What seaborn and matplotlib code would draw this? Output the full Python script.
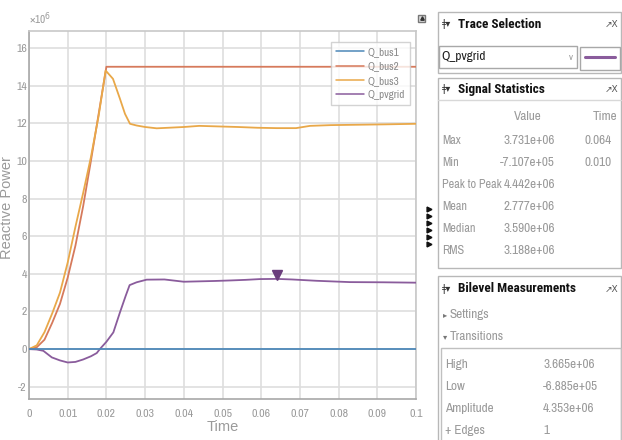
import numpy as np
import pandas as pd
import matplotlib
matplotlib.use("Agg")
import matplotlib.pyplot as plt
from matplotlib.patches import Rectangle
from matplotlib.lines import Line2D
import seaborn as sns

# ---- signal data (reactive power in units of 1e6) ----
t_bus1 = [0.0, 0.1]
q_bus1 = [0.0, 0.0]

t_bus2 = [0, 0.002, 0.004, 0.006, 0.008, 0.010, 0.012, 0.014, 0.016, 0.018, 0.020, 0.100]
q_bus2 = [0, 0.1, 0.5, 1.4, 2.4, 3.8, 5.5, 7.6, 10.0, 12.5, 15.0, 15.0]

t_bus3 = [0, 0.002, 0.004, 0.006, 0.008, 0.010, 0.012, 0.014, 0.016, 0.018, 0.0198,
          0.0217, 0.0235, 0.0248, 0.0261, 0.0278, 0.030, 0.033, 0.036, 0.040, 0.044,
          0.049, 0.054, 0.059, 0.064, 0.069, 0.0726, 0.078, 0.085, 0.092, 0.100]
q_bus3 = [0, 0.2, 0.9, 1.9, 3.0, 4.6, 6.5, 8.3, 10.2, 12.4, 14.8,
          14.36, 13.3, 12.5, 11.97, 11.88, 11.80, 11.73, 11.76, 11.80, 11.86,
          11.83, 11.80, 11.76, 11.74, 11.74, 11.86, 11.90, 11.92, 11.94, 11.97]

t_pv = [0, 0.002, 0.0037, 0.0059, 0.008, 0.010, 0.012, 0.014, 0.016, 0.0175, 0.0183,
        0.020, 0.0218, 0.0235, 0.025, 0.026, 0.0278, 0.0304, 0.035, 0.040, 0.044,
        0.048, 0.0523, 0.056, 0.0596, 0.064, 0.068, 0.0743, 0.0829, 0.0915, 0.100]
q_pv = [0, -0.02, -0.09, -0.44, -0.60, -0.71, -0.68, -0.55, -0.38, -0.21, 0.0,
        0.39, 0.89, 1.95, 2.84, 3.40, 3.55, 3.69, 3.70, 3.58, 3.60,
        3.62, 3.65, 3.68, 3.72, 3.731, 3.70, 3.63, 3.56, 3.55, 3.53]

series_names = ["Q_bus1", "Q_bus2", "Q_bus3", "Q_pvgrid"]
series_colors = ["#4d88b8", "#d67a5c", "#e9a849", "#8a5c9c"]

x_ticks = [0, 0.01, 0.02, 0.03, 0.04, 0.05, 0.06, 0.07, 0.08, 0.09, 0.1]
x_tick_labels = ["0", "0.01", "0.02", "0.03", "0.04", "0.05", "0.06", "0.07", "0.08", "0.09", "0.1"]
y_ticks = [-2, 0, 2, 4, 6, 8, 10, 12, 14, 16]

# signal statistics for the selected trace
stat_labels = ["Max", "Min", "Peak to Peak", "Mean", "Median", "RMS"]
stat_values = ["3.731e+06", "-7.107e+05", "4.442e+06", "2.777e+06", "3.590e+06", "3.188e+06"]
stat_times = ["0.064", "0.010", "", "", "", ""]
max_time, max_value = 0.064, 3.731

bilevel_labels = ["High", "Low", "Amplitude", "+ Edges"]
bilevel_values = ["3.665e+06", "-6.885e+05", "4.353e+06", "1"]

# ---- styling ----
sns.set_theme(style="white")
NARROW = ["Archivo Narrow", "Roboto Condensed", "DejaVu Sans"]
BOLD_NARROW = ["Roboto Condensed", "DejaVu Sans"]
plt.rcParams["font.family"] = NARROW
plt.rcParams["axes.unicode_minus"] = False

GRAY = "#9a9a9a"
W, H = 622, 440
fig = plt.figure(figsize=(W / 100, H / 100), dpi=100)
fig.patch.set_facecolor("white")

L, R, T, B = 29, 416, 31, 399
ax = fig.add_axes([L / W, 1 - B / H, (R - L) / W, (B - T) / H])

frames = []
for name, t, q in zip(series_names,
                      [t_bus1, t_bus2, t_bus3, t_pv],
                      [q_bus1, q_bus2, q_bus3, q_pv]):
    frames.append(pd.DataFrame({"Time": t, "Q": q, "signal": name}))
df = pd.concat(frames, ignore_index=True)

draw_order = ["Q_bus2", "Q_bus3", "Q_pvgrid", "Q_bus1"]
for z, name in enumerate(draw_order):
    color = series_colors[series_names.index(name)]
    sns.lineplot(data=df[df["signal"] == name], x="Time", y="Q", color=color,
                 linewidth=1.3, ax=ax, zorder=3 + z, estimator=None, sort=False)

# max marker on the selected trace
ax.plot([max_time], [max_value + 0.2], marker="v", markersize=7,
        color="#6a3d7c", zorder=10, linestyle="none")

ax.set_xlim(0, 0.1)
ax.set_ylim(-2.65, 16.9)
ax.set_xticks(x_ticks)
ax.set_xticklabels(x_tick_labels)
ax.set_yticks(y_ticks)
ax.tick_params(axis="both", length=0, labelsize=8.5, labelcolor=GRAY)
ax.tick_params(axis="y", pad=1.5)
ax.tick_params(axis="x", pad=7)
ax.grid(True, color="#dedede", linewidth=1.2)
ax.set_axisbelow(True)
for side in ["left", "bottom"]:
    ax.spines[side].set_color("#a8a8a8")
    ax.spines[side].set_linewidth(1.2)
for side in ["top", "right"]:
    ax.spines[side].set_color("#c8c8c8")
    ax.spines[side].set_linewidth(1.2)
ax.set_xlabel("Time", fontsize=10.5, color=GRAY, labelpad=1,
              family=["Liberation Sans", "DejaVu Sans"])
ax.set_ylabel("Reactive Power", fontsize=10.5, color=GRAY,
              family=["Liberation Sans", "DejaVu Sans"])
ax.yaxis.set_label_coords(-0.038, 0.52)
ax.text(0.0, 1.012, "×10$^{6}$", transform=ax.transAxes, fontsize=8,
        color=GRAY, ha="left", va="bottom")

handles = [Line2D([0], [0], color=c, linewidth=1.1) for c in series_colors]
leg = ax.legend(handles, series_names, loc="upper right",
                bbox_to_anchor=(0.984, 0.970), borderaxespad=0, fontsize=8,
                frameon=True, fancybox=False, handlelength=2.5, handletextpad=0.3,
                labelspacing=0.4, borderpad=0.45, labelcolor="#8a8a8a")
leg.get_frame().set_edgecolor("#c8c8c8")
leg.get_frame().set_linewidth(1.0)
leg.set_zorder(20)

# ---- side panels drawn in pixel coordinates ----
ov = fig.add_axes([0, 0, 1, 1], facecolor="none")
ov.set_xlim(0, W)
ov.set_ylim(H, 0)
ov.axis("off")

EDGE = "#b8b8b8"
FS = 9.5


def box(x0, y0, x1, y1, ec=EDGE, lw=1.0, fc="none"):
    ov.add_patch(Rectangle((x0, y0), x1 - x0, y1 - y0, fill=(fc != "none"),
                           facecolor=fc, edgecolor=ec, linewidth=lw))


def header(y, title):
    ov.text(442, y, "ǂ▾", fontsize=7, color="#333333", va="center", ha="left",
            family=["DejaVu Sans"])
    ov.text(458, y, title, fontsize=9.5, color="#111111", fontweight="bold",
            va="center", ha="left", family=BOLD_NARROW)
    ov.text(618, y, "↗X", fontsize=6.5, color="#555555", va="center", ha="right",
            family=["DejaVu Sans"])


# small toolbar icon next to the plot
box(418, 15, 425, 22, ec="#777777", fc="#dddddd")
ov.plot([421.5], [18], marker="^", markersize=2.5, color="#333333")
# expander arrows
ov.plot([429] * 6, [209, 216, 223, 230, 237, 244], marker=">", markersize=3.5,
        linestyle="none", color="#111111")

# Trace Selection
box(438, 12, 621, 73)
header(24, "Trace Selection")
box(439, 46, 577, 68, ec="#a8a8a8")
ov.text(441, 57, "Q_pvgrid", fontsize=FS, color="#222222", va="center", ha="left")
ov.text(571, 57, "v", fontsize=7, color="#999999", va="center", ha="center")
box(580, 47, 620, 70, ec="#a8a8a8")
ov.plot([585, 615], [57, 57], color=series_colors[3], linewidth=2.2)

# Signal Statistics
box(438, 78, 621, 268)
header(89, "Signal Statistics")
ov.plot([438, 621], [100, 100], color="#d8d8d8", linewidth=1.0)
ov.text(528, 117, "Value", fontsize=FS, color=GRAY, ha="center", va="center")
ov.text(605, 117, "Time", fontsize=FS, color=GRAY, ha="center", va="center")
for i, (lab, val, tm) in enumerate(zip(stat_labels, stat_values, stat_times)):
    yy = 140 + i * 22
    ov.text(442, yy, lab, fontsize=8.8, color=GRAY, ha="left", va="center")
    ov.text(555, yy, val, fontsize=FS, color=GRAY, ha="right", va="center")
    if tm:
        ov.text(612, yy, tm, fontsize=FS, color=GRAY, ha="right", va="center")

# Bilevel Measurements
box(438, 276, 621, 441)
header(289, "Bilevel Measurements")
ov.text(443, 315, "▸", fontsize=6, color="#777777", ha="left", va="center",
        family=["DejaVu Sans"])
ov.text(450, 315, "Settings", fontsize=FS, color=GRAY, ha="left", va="center")
ov.text(443, 337, "▾", fontsize=6, color="#777777", ha="left", va="center",
        family=["DejaVu Sans"])
ov.text(450, 337, "Transitions", fontsize=FS, color=GRAY, ha="left", va="center")
box(441, 348, 621, 441, ec="#c0c0c0")
for i, (lab, val) in enumerate(zip(bilevel_labels, bilevel_values)):
    yy = 365 + i * 22
    ov.text(445, yy, lab, fontsize=FS, color=GRAY, ha="left", va="center")
    ov.text(543, yy, val, fontsize=FS, color=GRAY, ha="left", va="center")

fig.savefig("out.png", dpi=100, facecolor="white")
